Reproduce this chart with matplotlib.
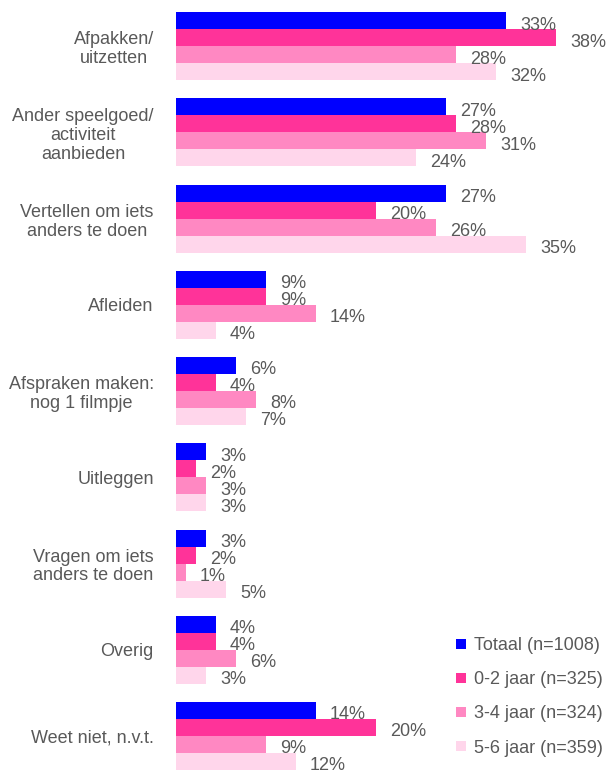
import matplotlib.pyplot as plt
import numpy as np
from matplotlib.lines import Line2D

plt.rcParams['font.family'] = ['Liberation Sans', 'DejaVu Sans']

categories = [
    "Afpakken/\nuitzetten",
    "Ander speelgoed/\nactiviteit\naanbieden",
    "Vertellen om iets\nanders te doen",
    "Afleiden",
    "Afspraken maken:\nnog 1 filmpje",
    "Uitleggen",
    "Vragen om iets\nanders te doen",
    "Overig",
    "Weet niet, n.v.t.",
]
series_names = ["Totaal (n=1008)", "0-2 jaar (n=325)", "3-4 jaar (n=324)", "5-6 jaar (n=359)"]
totaal = [33, 27, 27, 9, 6, 3, 3, 4, 14]
jaar_0_2 = [38, 28, 20, 9, 4, 2, 2, 4, 20]
jaar_3_4 = [28, 31, 26, 14, 8, 3, 1, 6, 9]
jaar_5_6 = [32, 24, 35, 4, 7, 3, 5, 3, 12]
colors = ["#0000FF", "#FF3399", "#FF88C2", "#FFD6EB"]

text_color = "#595959"
fs = 13

fig = plt.figure(figsize=(6.09, 7.76), dpi=100)
ax = fig.add_axes([0.289, -0.004, 0.711, 1.0])

y = np.arange(len(categories))
h = 0.197
all_series = [totaal, jaar_0_2, jaar_3_4, jaar_5_6]
for k, vals in enumerate(all_series):
    pos = y + (k - 1.5) * h
    ax.barh(pos, vals, height=h, color=colors[k], linewidth=0)
    for p, v in zip(pos, vals):
        ax.text(v + 1.4, p + 0.05, f"{v}%", va="center", ha="left",
                fontsize=fs, color=text_color)

ax.set_xlim(0, 43.3)
ax.set_ylim(len(categories) - 0.5, -0.5)
ax.set_yticks(y)
ax.set_yticklabels(categories, fontsize=fs, color=text_color,
                   multialignment="center", linespacing=1.15)
ax.tick_params(axis="y", length=0, pad=16)
ax.set_xticks([])
for s in ax.spines.values():
    s.set_visible(False)

handles = [Line2D([0], [0], marker="s", linestyle="none", markersize=6.5,
                  markerfacecolor=c, markeredgewidth=0) for c in colors]
leg = fig.legend(handles, series_names, loc="lower right",
                 bbox_to_anchor=(0.99, 0.025), frameon=False, fontsize=fs,
                 labelspacing=0.95, handlelength=0.6, handletextpad=0.4,
                 borderpad=0, borderaxespad=0)
for t in leg.get_texts():
    t.set_color(text_color)

fig.savefig("out.png", dpi=100)
